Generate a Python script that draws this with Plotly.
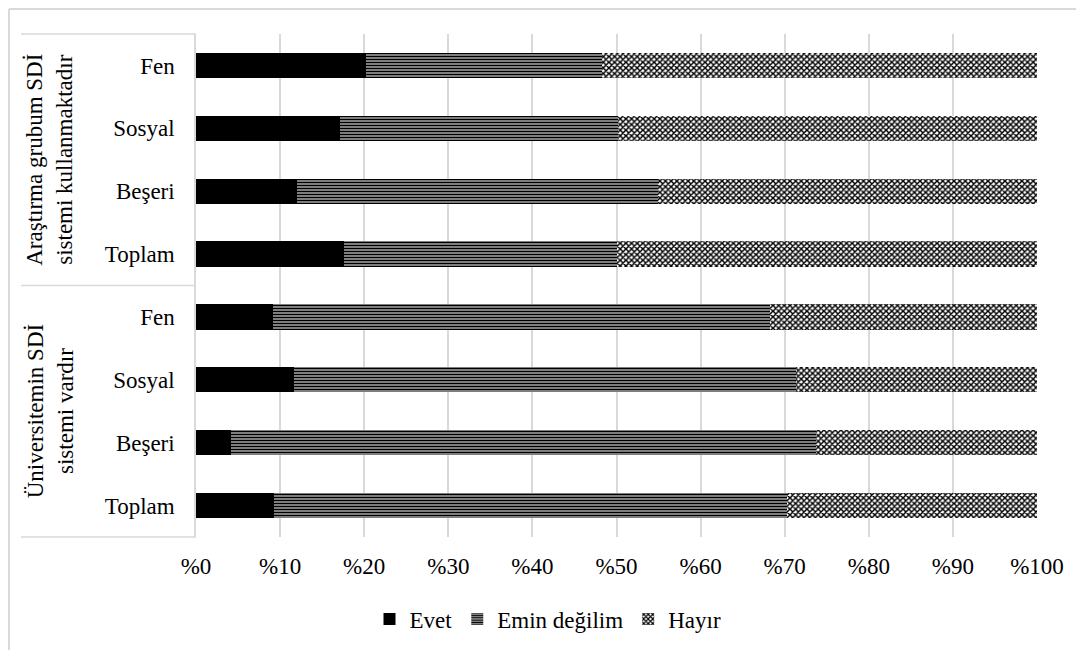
import plotly.graph_objects as go

# ---- data (percent) ----
groups = ["Araştırma grubum SDİ<br>sistemi kullanmaktadır", "Üniversitemin SDİ<br>sistemi vardır"]
subcats = ["Fen", "Sosyal", "Beşeri", "Toplam"]
series_names = ["Evet", "Emin değilim", "Hayır"]

evet_research = [20.2, 17.1, 12.0, 17.6]
emin_research = [28.1, 33.1, 42.9, 32.5]
hayir_research = [51.7, 49.8, 45.1, 49.9]

evet_uni = [9.2, 11.7, 4.2, 9.3]
emin_uni = [59.1, 59.6, 69.5, 61.0]
hayir_uni = [31.7, 28.7, 26.3, 29.7]

x_ticks = [0, 10, 20, 30, 40, 50, 60, 70, 80, 90, 100]
x_ticklabels = ["%" + str(v) for v in x_ticks]

# ---- build ----
keys = [f"g{gi}|{c}" for gi in range(len(groups)) for c in subcats]
labels = [c for _ in groups for c in subcats]
values = {
    "Evet": evet_research + evet_uni,
    "Emin değilim": emin_research + emin_uni,
    "Hayır": hayir_research + hayir_uni,
}

FONT = "Liberation Serif, Times New Roman, serif"
FS = 23
GRID = "#d9d9d9"

styles = {
    "Evet": dict(color="black", pattern=dict(shape="")),
    "Emin değilim": dict(color="#a8a8a8",
                         pattern=dict(shape="-", fgcolor="black", bgcolor="#a8a8a8",
                                      size=3, solidity=0.5, fillmode="replace")),
    "Hayır": dict(color="white",
                  pattern=dict(shape="x", fgcolor="black", bgcolor="white",
                               size=4, solidity=0.6, fillmode="replace")),
}

fig = go.Figure()
for name in series_names:
    st = styles[name]
    fig.add_trace(go.Bar(
        y=keys, x=values[name], orientation="h", name=name,
        marker=dict(color=st["color"], pattern=st["pattern"], line=dict(width=0)),
    ))

# page body has an 8px margin: figure origin sits at (8, 8) in the window
OFF = 8
WIN_W, WIN_H = 1084, 650
W, H = WIN_W - OFF, WIN_H - OFF
PL, PR, PT, PB = 196, 1037, 34, 537   # plot area in window pixels
L, R, T, B = PL - OFF, WIN_W - PR, PT - OFF, WIN_H - PB
pw = PR - PL
ph = PB - PT

def px_x(p):  # window pixel -> paper x
    return (p - PL) / pw

def px_y(p):  # window pixel -> paper y
    return (PB - p) / ph

shapes = []
line = dict(color=GRID, width=1.5)
for yy in [PT, (PT + PB) / 2, PB]:
    shapes.append(dict(type="line", xref="paper", yref="paper",
                       x0=px_x(21), x1=0, y0=px_y(yy), y1=px_y(yy), line=line))
# outer chart border (left and top)
shapes.append(dict(type="line", xref="paper", yref="paper",
                   x0=px_x(9), x1=px_x(9), y0=px_y(9), y1=px_y(WIN_H + 5), line=dict(color=GRID, width=2)))
shapes.append(dict(type="line", xref="paper", yref="paper",
                   x0=px_x(9), x1=px_x(WIN_W + 5), y0=px_y(9), y1=px_y(9), line=dict(color=GRID, width=2)))

annotations = []
for gi, g in enumerate(groups):
    yc = px_y(PT + ph * (gi + 0.5) / len(groups))
    annotations.append(dict(text=g, xref="paper", yref="paper", x=px_x(50), y=yc,
                            textangle=-90, showarrow=False, xanchor="center", yanchor="middle",
                            font=dict(family=FONT, size=FS, color="black")))

fig.update_layout(
    width=W, height=H,
    margin=dict(l=L, r=R, t=T, b=B, pad=0),
    barmode="stack", bargap=0.6,
    plot_bgcolor="white", paper_bgcolor="white",
    font=dict(family=FONT, size=FS, color="black"),
    xaxis=dict(range=[0, 100], tickvals=x_ticks, ticktext=x_ticklabels,
               showgrid=True, gridcolor=GRID, gridwidth=1.5, zeroline=False,
               ticks="outside", ticklen=8, tickcolor="rgba(0,0,0,0)",
               showline=False, tickfont=dict(family=FONT, size=FS)),
    yaxis=dict(type="category", categoryorder="array", categoryarray=keys,
               autorange="reversed", tickvals=keys, ticktext=labels,
               ticks="outside", ticklen=15, tickcolor="rgba(0,0,0,0)",
               showline=True, linecolor=GRID, linewidth=1.5, showgrid=False,
               tickfont=dict(family=FONT, size=FS)),
    legend=dict(orientation="h", xref="container", yref="container",
                x=(548 - OFF) / W, y=1 - (619 - OFF) / H, xanchor="center", yanchor="middle",
                traceorder="normal",
                font=dict(family=FONT, size=FS), itemwidth=30, tracegroupgap=0),
    shapes=shapes, annotations=annotations,
    showlegend=True,
)

fig.write_html("out.html")
